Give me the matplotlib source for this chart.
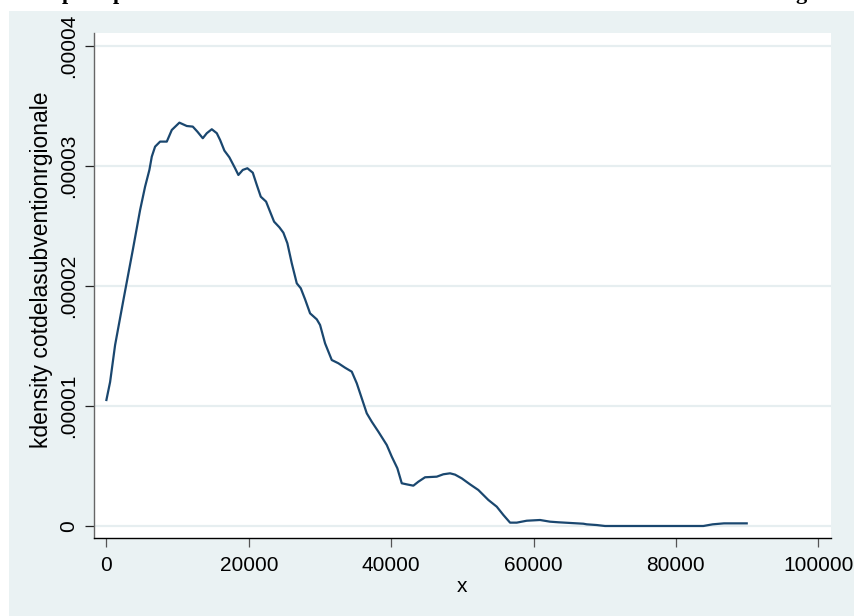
import matplotlib
matplotlib.use("Agg")
import matplotlib.pyplot as plt
from matplotlib.patches import Rectangle

plt.rcParams['font.family'] = ['Liberation Sans', 'DejaVu Sans']

# Kernel density curve
x_vals = [0, 520, 1222, 2388, 3708, 4733, 5435, 6039, 6376, 6839, 7542, 8483,
          9185, 10253, 11292, 12135, 12781, 13539, 14101, 14803, 15506, 15969,
          16573, 17275, 18076, 18539, 19157, 19803, 20562, 21124, 21685, 22430,
          22992, 23553, 24298, 24860, 25421, 26039, 26742, 27303, 27907, 28610,
          29551, 30014, 30716, 31657, 32584, 33525, 34466, 35169, 35871, 36573,
          37275, 38202, 39382, 40084, 40871, 41489, 42191, 43118, 43820, 44761,
          46405, 47332, 48273, 48975, 49916, 51082, 52247, 53652, 54832, 55759,
          56700, 57641, 59045, 60913, 62318, 63483, 66995, 67472, 68877, 70042,
          83849, 85169, 86756, 89944]
y_vals = [1.050e-5, 1.200e-5, 1.508e-5, 1.883e-5, 2.300e-5, 2.633e-5, 2.828e-5,
          2.967e-5, 3.078e-5, 3.161e-5, 3.203e-5, 3.203e-5, 3.300e-5, 3.361e-5,
          3.333e-5, 3.328e-5, 3.286e-5, 3.231e-5, 3.273e-5, 3.306e-5, 3.273e-5,
          3.217e-5, 3.128e-5, 3.072e-5, 2.981e-5, 2.925e-5, 2.967e-5, 2.981e-5,
          2.944e-5, 2.842e-5, 2.744e-5, 2.703e-5, 2.619e-5, 2.536e-5, 2.489e-5,
          2.444e-5, 2.356e-5, 2.189e-5, 2.022e-5, 1.981e-5, 1.889e-5, 1.772e-5,
          1.722e-5, 1.675e-5, 1.522e-5, 1.383e-5, 1.356e-5, 1.319e-5, 1.286e-5,
          1.189e-5, 1.064e-5, 0.939e-5, 0.869e-5, 0.786e-5, 0.675e-5, 0.578e-5,
          0.481e-5, 0.356e-5, 0.347e-5, 0.336e-5, 0.369e-5, 0.406e-5, 0.411e-5,
          0.431e-5, 0.439e-5, 0.428e-5, 0.397e-5, 0.347e-5, 0.300e-5, 0.217e-5,
          0.161e-5, 0.092e-5, 0.028e-5, 0.028e-5, 0.044e-5, 0.050e-5, 0.036e-5,
          0.031e-5, 0.019e-5, 0.014e-5, 0.008e-5, 0.000e-5, 0.000e-5, 0.014e-5,
          0.022e-5, 0.022e-5]

x_ticks = [0, 20000, 40000, 60000, 80000, 100000]
x_ticklabels = ["0", "20000", "40000", "60000", "80000", "100000"]
y_ticks = [0, 0.00001, 0.00002, 0.00003, 0.00004]
y_ticklabels = ["0", ".00001", ".00002", ".00003", ".00004"]

y_title = "kdensity cotdelasubventionrgionale"
x_title = "x"

BG = '#EAF2F3'
LINE = '#1A476F'
W, H = 856, 616

fig = plt.figure(figsize=(W / 100, H / 100), dpi=100, facecolor='white')
fig.patches.append(Rectangle((9 / W, 0), (854 - 9) / W, (H - 11) / H,
                             transform=fig.transFigure, facecolor=BG,
                             edgecolor='none', zorder=-10))

# clipped caption descenders at the very top (as in the reference)
for ch, px in [("p", 62), ("p", 113), ("g", 795)]:
    fig.text(px / W, 1 + 1.0 / H, ch, fontsize=16, fontweight='bold',
             family='Liberation Serif', va='baseline', ha='left')

ax = fig.add_axes([93.7 / W, 1 - 538.3 / H, (830.7 - 93.7) / W, (538.3 - 33) / H])
ax.set_zorder(5)
ax.set_facecolor('white')
ax.plot(x_vals, y_vals, color=LINE, lw=1.6, solid_joinstyle='round', zorder=3)

ax.set_xlim(-1784, 101742)
ax.set_ylim(-1.025e-6, 4.108e-5)

ax.set_xticks(x_ticks)
ax.set_xticklabels(x_ticklabels)
ax.set_yticks(y_ticks)
ax.set_yticklabels(y_ticklabels, rotation=90, va='center')

ax.yaxis.grid(True, color='#E6EEF0', lw=1.6, zorder=0)
ax.xaxis.grid(False)
ax.set_axisbelow(True)

for s in ['top', 'right']:
    ax.spines[s].set_visible(False)
ax.spines['left'].set_color('#666666')
ax.spines['left'].set_linewidth(1.0)
ax.spines['bottom'].set_color('black')
ax.spines['bottom'].set_linewidth(1.0)

ax.tick_params(axis='y', length=6.5, width=0.9, color='#222222', pad=5,
               labelsize=15)
ax.tick_params(axis='x', length=6.5, width=0.9, color='#555555', pad=6.5,
               labelsize=15)

ax.set_ylabel(y_title, fontsize=16.5)
ax.yaxis.set_label_coords((53 - 93.7) / 737, (538.3 - 270) / 505.3)
ax.set_xlabel(x_title, fontsize=15, labelpad=1)

fig.savefig('out.png', dpi=100, facecolor='white')
